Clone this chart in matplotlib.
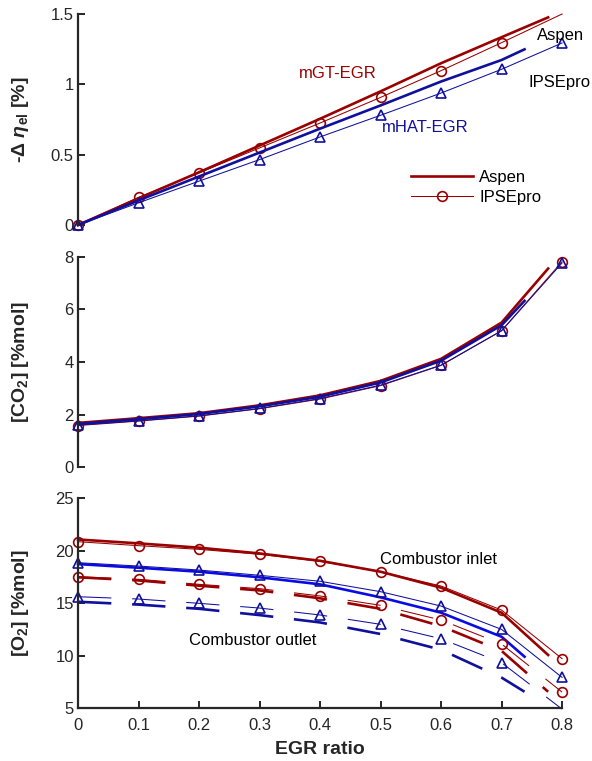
import matplotlib.pyplot as plt
import numpy as np

plt.rcParams['font.family'] = ['Liberation Sans', 'DejaVu Sans']
plt.rcParams['mathtext.fontset'] = 'custom'
plt.rcParams['mathtext.rm'] = 'Liberation Sans'
plt.rcParams['mathtext.it'] = 'Liberation Sans:italic'
plt.rcParams['mathtext.bf'] = 'Liberation Sans:bold'
plt.rcParams['mathtext.bfit'] = 'Liberation Sans:italic:bold'
plt.rcParams['lines.scale_dashes'] = False

# EGR ratio
egr = [0, 0.1, 0.2, 0.3, 0.4, 0.5, 0.6, 0.7, 0.8]
egr_gt_aspen = [0, 0.1, 0.2, 0.3, 0.4, 0.5, 0.6, 0.7, 0.777]
egr_hat_aspen = [0, 0.1, 0.2, 0.3, 0.4, 0.5, 0.6, 0.7, 0.738]

# efficiency penalty -delta eta_el [%]
eta_gt_aspen = [0, 0.19, 0.375, 0.565, 0.755, 0.95, 1.15, 1.335, 1.476]
eta_gt_ipse = [0, 0.196, 0.371, 0.548, 0.725, 0.907, 1.097, 1.296, 1.5]
eta_hat_aspen = [0, 0.175, 0.345, 0.515, 0.685, 0.85, 1.02, 1.173, 1.249]
eta_hat_ipse = [0, 0.158, 0.312, 0.465, 0.626, 0.78, 0.938, 1.107, 1.294]

# CO2 [%mol]
co2_gt_aspen = [1.68, 1.86, 2.05, 2.35, 2.73, 3.28, 4.12, 5.5, 7.56]
co2_gt_ipse = [1.58, 1.75, 1.94, 2.22, 2.59, 3.1, 3.87, 5.19, 7.82]
co2_hat_aspen = [1.64, 1.82, 2.02, 2.31, 2.68, 3.22, 4.05, 5.4, 6.33]
co2_hat_ipse = [1.6, 1.76, 1.95, 2.23, 2.61, 3.12, 3.88, 5.19, 7.77]

# O2 [%mol], combustor inlet / outlet
o2in_gt_aspen = [21.05, 20.68, 20.27, 19.72, 19.02, 17.98, 16.46, 14.08, 10.05]
o2in_gt_ipse = [20.84, 20.46, 20.11, 19.64, 18.97, 17.98, 16.62, 14.33, 9.7]
o2in_hat_aspen = [18.71, 18.36, 17.98, 17.45, 16.78, 15.54, 14.08, 11.79, 9.89]
o2in_hat_ipse = [18.84, 18.52, 18.14, 17.64, 17.07, 16.08, 14.71, 12.49, 7.92]
o2out_gt_aspen = [17.45, 17.15, 16.65, 16.2, 15.45, 14.45, 12.8, 10.44, 6.55]
o2out_gt_ipse = [17.5, 17.26, 16.78, 16.37, 15.67, 14.78, 13.38, 11.1, 6.52]
o2out_hat_aspen = [15.12, 14.85, 14.45, 13.85, 13.15, 12.05, 10.55, 7.9, 6.55]
o2out_hat_ipse = [15.6, 15.38, 14.97, 14.52, 13.86, 12.97, 11.6, 9.32, 4.9]

red = '#990000'
navy = '#10109c'
blue = '#0a0ae6'
txt = '#262626'
thick = 1.9
thin = 0.75
dash = (0, (24, 15))

fig = plt.figure(figsize=(5.92, 7.61), dpi=100)
ax1 = fig.add_axes([0.1318, 0.7043, 0.8176, 0.2773])
ax2 = fig.add_axes([0.1318, 0.3863, 0.8176, 0.2760])
ax3 = fig.add_axes([0.1318, 0.0696, 0.8176, 0.2760])

mk = dict(markersize=7, markerfacecolor='none', markeredgewidth=1.2, clip_on=False)

# top panel
l1, = ax1.plot(egr_gt_aspen, eta_gt_aspen, '-', color=red, lw=thick, clip_on=False, label='Aspen')
l2, = ax1.plot(egr, eta_gt_ipse, '-o', color=red, lw=thin, markevery=slice(0, 8), label='IPSEpro', **mk)
ax1.plot(egr_hat_aspen, eta_hat_aspen, '-', color=navy, lw=thick, clip_on=False)
ax1.plot(egr, eta_hat_ipse, '-^', color=navy, lw=thin, **mk)
ax1.set_ylim(0, 1.5)
ax1.set_yticks([0, 0.5, 1, 1.5])
ax1.set_yticklabels(['0', '0.5', '1', '1.5'])
ax1.set_ylabel(r'-Δ $\mathbfit{\eta}_{\mathbf{el}}$ [%]', fontsize=14, fontweight='bold', color=txt)
ax1.text(0.43, 1.08, 'mGT-EGR', color=red, fontsize=12, ha='center', va='center')
ax1.text(0.574, 0.69, 'mHAT-EGR', color=navy, fontsize=12, ha='center', va='center')
ax1.text(0.759, 1.35, 'Aspen', color='black', fontsize=12, ha='left', va='center')
ax1.text(0.745, 1.01, 'IPSEpro', color='black', fontsize=12, ha='left', va='center')
ax1.legend(handles=[l1, l2], loc='upper left', bbox_to_anchor=(0.688, 0.262), frameon=False,
           fontsize=12, handlelength=3.7, handletextpad=0.4, labelspacing=0.3,
           borderpad=0, borderaxespad=0)

# middle panel
ax2.plot(egr_gt_aspen, co2_gt_aspen, '-', color=red, lw=thick, clip_on=False)
ax2.plot(egr, co2_gt_ipse, '-o', color=red, lw=thin, **mk)
ax2.plot(egr_hat_aspen, co2_hat_aspen, '-', color=navy, lw=thick, clip_on=False)
ax2.plot(egr, co2_hat_ipse, '-^', color=navy, lw=thin, **mk)
ax2.set_ylim(0, 8)
ax2.set_yticks([0, 2, 4, 6, 8])
ax2.set_ylabel(r'[CO$_{\mathbf{2}}$] [%mol]', fontsize=14, fontweight='bold', color=txt)

# bottom panel
ax3.plot(egr_gt_aspen, o2in_gt_aspen, '-', color=red, lw=thick, clip_on=False)
ax3.plot(egr, o2in_gt_ipse, '-o', color=red, lw=thin, **mk)
ax3.plot(egr_hat_aspen, o2in_hat_aspen, '-', color=blue, lw=thick, clip_on=False)
ax3.plot(egr, o2in_hat_ipse, '-^', color=navy, lw=thin, **mk)
ax3.plot(egr_gt_aspen, o2out_gt_aspen, color=red, lw=thick, linestyle=dash, clip_on=False)
ax3.plot(egr, o2out_gt_ipse, 'o', color=red, lw=thin, linestyle=dash, **mk)
ax3.plot(egr_hat_aspen, o2out_hat_aspen, color=navy, lw=thick, linestyle=dash, clip_on=False)
ax3.plot(egr, o2out_hat_ipse, '^', color=navy, lw=thin, linestyle=dash, markevery=slice(0, 8), **mk)
ax3.set_ylim(5, 25)
ax3.set_yticks([5, 10, 15, 20, 25])
ax3.set_ylabel(r'[O$_{\mathbf{2}}$] [%mol]', fontsize=14, fontweight='bold', color=txt)
ax3.text(0.499, 19.1, 'Combustor inlet', fontsize=12, ha='left', va='center')
ax3.text(0.183, 11.4, 'Combustor outlet', fontsize=12, ha='left', va='center')
ax3.set_xticks(egr)
ax3.set_xticklabels(['0', '0.1', '0.2', '0.3', '0.4', '0.5', '0.6', '0.7', '0.8'])
ax3.set_xlabel('EGR ratio', fontsize=14, fontweight='bold', color=txt, labelpad=6)

for ax in (ax1, ax2, ax3):
    ax.set_xlim(0, 0.8)
    ax.patch.set_visible(False)
    for s in ('top', 'right'):
        ax.spines[s].set_visible(False)
    ax.spines['left'].set_linewidth(1.6)
    ax.spines['left'].set_color(txt)
    ax.tick_params(axis='y', direction='in', length=5, width=1.4, labelsize=12,
                   labelcolor=txt, color=txt, pad=3)
    ax.yaxis.set_label_coords(-0.098, 0.5)

for ax in (ax1, ax2):
    ax.spines['bottom'].set_visible(False)
    ax.set_xticks([])

ax3.spines['bottom'].set_linewidth(1.6)
ax3.spines['bottom'].set_color(txt)
ax3.tick_params(axis='x', direction='in', length=5, width=1.4, labelsize=12,
                labelcolor=txt, color=txt, pad=7)

fig.savefig('out.png', dpi=100)
